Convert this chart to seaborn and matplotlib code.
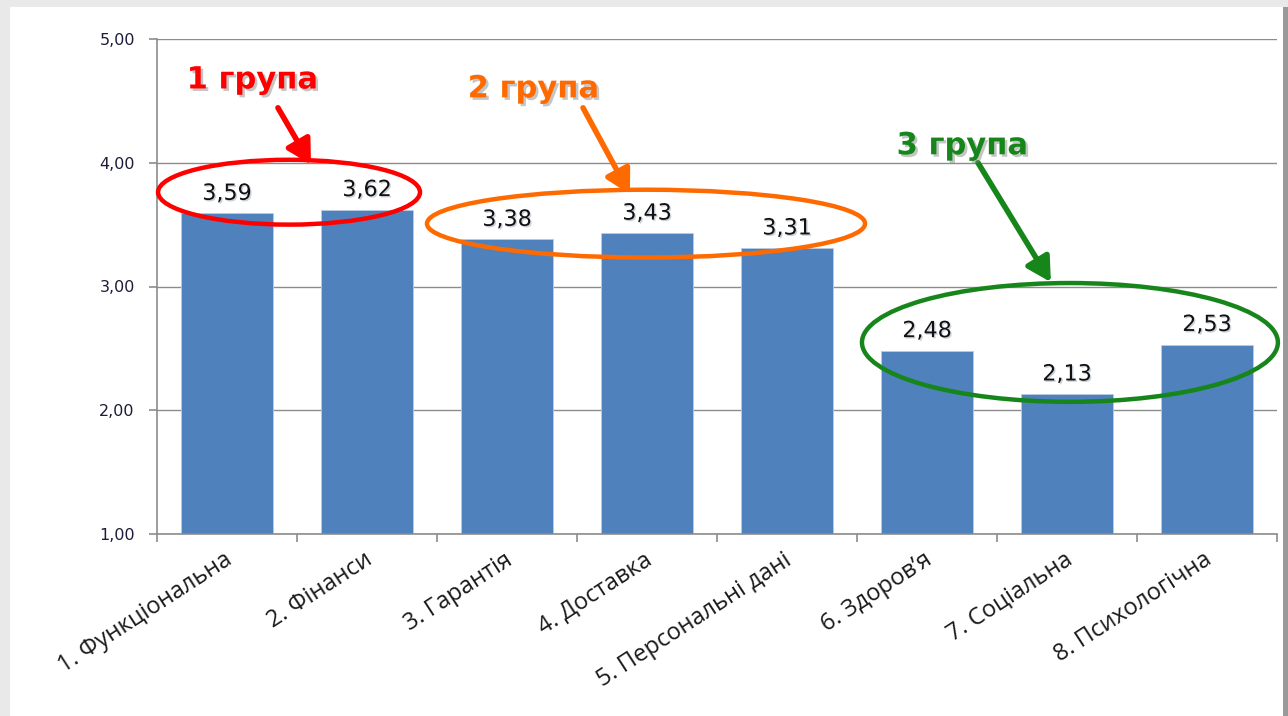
import matplotlib
matplotlib.use("Agg")
import matplotlib.pyplot as plt
import matplotlib.patches as mpatches
import matplotlib.patheffects as pe
import seaborn as sns
import pandas as pd

# --- data ---------------------------------------------------------------
categories = [
    "1. Функціональна",
    "2. Фінанси",
    "3. Гарантія",
    "4. Доставка",
    "5. Персональні дані",
    "6. Здоров’я",
    "7. Соціальна",
    "8. Психологічна",
]
scores = [3.59, 3.62, 3.38, 3.43, 3.31, 2.48, 2.13, 2.53]
y_ticks = [1.0, 2.0, 3.0, 4.0, 5.0]
group_labels = ["1 група", "2 група", "3 група"]
group_colors = ["#FF0000", "#FF6A00", "#16861A"]

df = pd.DataFrame({"category": categories, "score": scores})

# --- figure -------------------------------------------------------------
sns.set_theme(style="white")
plt.rcParams["font.family"] = ["DejaVu Sans"]

fig = plt.figure(figsize=(12.88, 7.16), dpi=100)
fig.patch.set_facecolor("#e9e9e9")

# white card with a soft shadow on the right
fig.add_artist(mpatches.Rectangle((1283 / 1288, 0), 5 / 1288, 709 / 716,
                                  transform=fig.transFigure, facecolor="#9a9a9a",
                                  edgecolor="none", zorder=0))
fig.add_artist(mpatches.Rectangle((10 / 1288, 0), 1273 / 1288, 709 / 716,
                                  transform=fig.transFigure, facecolor="white",
                                  edgecolor="none", zorder=0))

ax = fig.add_axes([157 / 1288, 1 - 534 / 716, 1120 / 1288, (534 - 39) / 716])
ax.set_facecolor("none")

sns.barplot(data=df, x="category", y="score", color="#4F81BD", saturation=1,
            width=0.657, edgecolor="#B8CCE4", linewidth=0.6, ax=ax, zorder=2)

ax.set_ylim(1, 5)
ax.set_xlim(-0.5, len(categories) - 0.5)
ax.set_yticks(y_ticks)
ax.set_yticklabels([f"{v:.2f}".replace(".", ",") for v in y_ticks],
                   fontsize=11.5, color="#1c1c3a")
ax.set_xlabel("")
ax.set_ylabel("")

# gridlines and axes styling
ax.yaxis.grid(True, color="#8c8c8c", linewidth=1.0, zorder=0)
ax.set_axisbelow(True)
for s in ["top", "right"]:
    ax.spines[s].set_visible(False)
for s in ["left", "bottom"]:
    ax.spines[s].set_color("#8c8c8c")
    ax.spines[s].set_linewidth(1.2)
ax.tick_params(axis="y", direction="out", length=6, width=1.2, color="#8c8c8c", pad=10, left=True)

# x ticks between categories, labels drawn separately
ax.set_xticks([i - 0.5 for i in range(len(categories) + 1)])
ax.set_xticklabels([])
ax.tick_params(axis="x", direction="out", length=6, width=1.2, color="#8c8c8c", bottom=True)

for i, name in enumerate(categories):
    ax.annotate(name, xy=(i, 0), xycoords=("data", "axes fraction"),
                xytext=(4.5, -21), textcoords="offset points",
                rotation=33, rotation_mode="anchor", ha="right", va="baseline",
                fontsize=17, family=["Open Sans", "DejaVu Sans"], color="#1a1a1a")

# value labels above bars
shadow = [pe.SimplePatchShadow(offset=(1, -1), shadow_rgbFace="#9aa6b8", alpha=0.5), pe.Normal()]
for i, v in enumerate(scores):
    ax.annotate(f"{v:.2f}".replace(".", ","), xy=(i, v), xytext=(0, 7),
                textcoords="offset points", ha="center", va="bottom",
                fontsize=16, color="#111111", path_effects=shadow, zorder=5)

# group ellipses, arrows and labels
ellipses = [((0.443, 3.762), 1.871, 0.524),
            ((2.993, 3.508), 3.129, 0.548),
            ((6.021, 2.548), 2.971, 0.960)]
arrows = [((0.364, 4.444), (0.600, 3.985)),
          ((2.543, 4.444), (2.878, 3.745)),
          ((5.364, 4.000), (5.885, 3.035))]
label_pos = [(0.179, 4.669), (2.186, 4.597), (5.250, 4.137)]

label_shadow = [pe.SimplePatchShadow(offset=(1.8, -1.8), shadow_rgbFace="#808080", alpha=0.45),
                pe.Normal()]
for (c, w, h), (start, tip), pos, text, col in zip(ellipses, arrows, label_pos,
                                                    group_labels, group_colors):
    ax.add_patch(mpatches.Ellipse(c, w, h, fill=False, edgecolor=col, linewidth=3.2,
                                  zorder=6, clip_on=False))
    ax.annotate("", xy=tip, xytext=start,
                arrowprops=dict(arrowstyle="-|>,head_length=0.9,head_width=0.5",
                                color=col, lw=4, mutation_scale=16,
                                shrinkA=0, shrinkB=0),
                zorder=6, annotation_clip=False)
    ax.text(pos[0], pos[1], text, ha="center", va="center", fontsize=22,
            fontweight="bold", color=col, path_effects=label_shadow, zorder=7)

fig.savefig("out.png", dpi=100, facecolor=fig.get_facecolor())
